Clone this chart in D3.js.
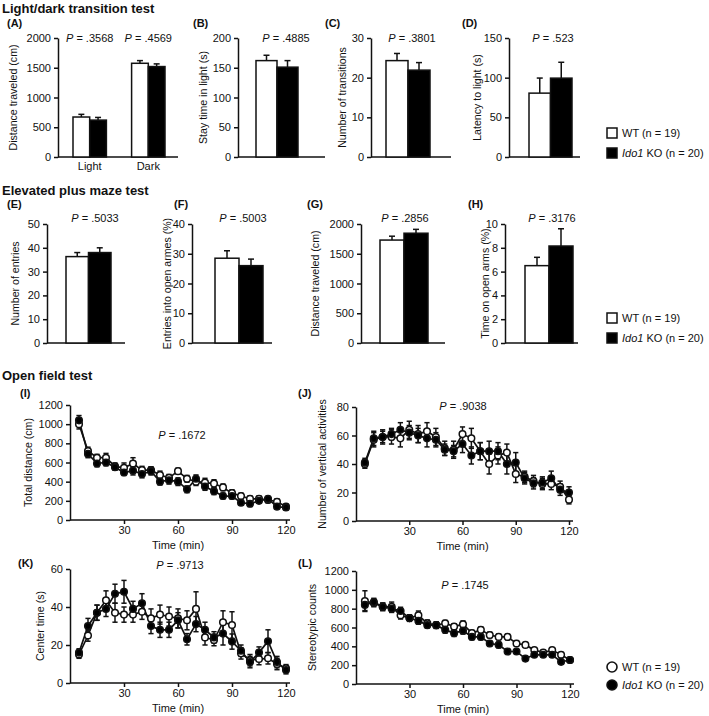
<!DOCTYPE html>
<html><head><meta charset="utf-8">
<script src="https://cdn.jsdelivr.net/npm/d3@7"></script>
<style>
body{margin:0;background:#fff;}
svg text{font-family:"Liberation Sans",Arial,sans-serif;fill:#111;}
</style></head>
<body><svg id="c" width="709" height="716"></svg>
<script>
// ---------- DATA ----------
const groupNames = ["WT (n = 19)", "Ido1 KO (n = 20)"];
// Light/dark transition
const ldCats = ["Light", "Dark"];
const ldDistWT = [672, 1575], ldDistWTErr = [45, 45];
const ldDistKO = [620, 1520], ldDistKOErr = [45, 45];
const stayWT = [162], stayWTErr = [9], stayKO = [151], stayKOErr = [11];
const transWT = [24.3], transWTErr = [1.8], transKO = [21.9], transKOErr = [1.9];
const latWT = [80.5], latWTErr = [19], latKO = [99.4], latKOErr = [20];
// Elevated plus maze
const entWT = [36.3], entWTErr = [1.7], entKO = [38], entKOErr = [2];
const openEntWT = [28.5], openEntWTErr = [2.5], openEntKO = [26], openEntKOErr = [2.2];
const epmDistWT = [1730], epmDistWTErr = [65], epmDistKO = [1845], epmDistKOErr = [65];
const openTimeWT = [6.5], openTimeWTErr = [0.7], openTimeKO = [8.15], openTimeKOErr = [1.45];
// Open field (5-min bins)
const timeBins = [5,10,15,20,25,30,35,40,45,50,55,60,65,70,75,80,85,90,95,100,105,110,115,120];
const totDistWT = [1000,720,650,650,560,545,590,520,520,470,440,510,430,400,390,380,340,280,250,220,220,210,190,140];
const totDistWTErr = [50,40,35,45,35,50,60,40,35,40,35,30,35,40,45,40,35,35,30,30,30,30,30,25];
const totDistKO = [1040,690,590,600,550,495,515,480,510,400,415,400,320,430,350,300,250,250,180,170,200,220,140,130];
const totDistKOErr = [50,40,35,35,30,30,45,40,40,35,40,40,35,40,40,35,30,30,25,30,25,25,25,20];
const vertWT = [40,57,59,59,58,64,61,63,59,51,50,61,58,49,40,46,48,33,31,28,26,26,24,15];
const vertWTErr = [3,5,5,5,6,6,6,6,6,5,6,5,7,6,7,6,6,6,4,4,4,4,4,3];
const vertKO = [41,58,59,61,64,62,60,58,57,50,49,54,46,49,49,49,40,41,30,26.5,27,30,22,20];
const vertKOErr = [3,5,4,4,5,5,5,6,5,4,4,6,6,6,7,6,7,7,4,4,4,5,4,4];
const centWT = [15,25,37,43.5,37,36,36,37.5,34,36,35,34,33,39,24,22.6,32,30.5,15.6,12,12.6,13,10,7.7];
const centWTErr = [2,3,4,5,5,4,4,4,5,5,5,5,5,9,4,3,6,7,3,3,3,3,3,2];
const centKO = [16,30,37,39,47,48,39,42,30,28,28,33,23,31,28,24,26,21.8,17,11,16,22,11,6.8];
const centKOErr = [2,4,4,4,5,6,4,5,4,4,4,4,3,4,4,3,6,4,3,3,3,6,3,2];
const stereoWT = [880,860,820,820,730,700,730,645,625,645,610,635,540,575,520,500,500,430,415,360,335,360,310,255];
const stereoWTErr = [110,40,40,50,40,30,45,35,30,30,30,35,30,30,30,30,30,30,25,25,25,25,25,25];
const stereoKO = [840,870,820,800,775,700,670,625,625,575,540,565,500,500,430,415,345,345,270,310,310,310,235,255];
const stereoKOErr = [60,40,40,40,40,35,35,30,35,35,35,35,30,30,30,30,30,25,25,25,25,25,25,25];
// P values
const pLD = [".3568", ".4569"];
const pBar = [".4885", ".3801", ".523", ".5033", ".5003", ".2856", ".3176"];
const pLine = [".1672", ".9038", ".9713", ".1745"];

// ---------- DRAW ----------
const svg = d3.select("#c");
const FS = 11;

function pText(g, x, y, val) {
  const t = g.append("text").attr("x", x).attr("y", y).attr("text-anchor", "middle").attr("font-size", FS);
  t.append("tspan").attr("font-style", "italic").text("P");
  t.append("tspan").text(" = " + val);
}
function header(x, y, txt, size) {
  svg.append("text").attr("x", x).attr("y", y).attr("font-weight", "bold").attr("font-size", size).text(txt);
}
function yTitle(x, yc, txt) {
  svg.append("text").attr("transform", `translate(${x},${yc}) rotate(-90)`)
    .attr("text-anchor", "middle").attr("font-size", 10.6).text(txt);
}
function styleAxis(a) {
  a.selectAll("path,line").attr("stroke", "#111").attr("stroke-width", 1.5);
  a.selectAll("text").attr("font-size", FS).attr("fill", "#111")
    .attr("font-family", '"Liberation Sans",Arial,sans-serif');
}

function barPanel(c) {
  const y = d3.scaleLinear().domain([0, c.max]).range([c.yBot, c.yTop]);
  const gx = d3.scaleBand().domain(c.cats).range(c.span).paddingInner(c.cats.length > 1 ? 0.43 : 0);
  const sx = d3.scaleBand().domain(["WT", "KO"]).range([0, gx.bandwidth()]);
  const g = svg.append("g");
  const ya = g.append("g").attr("transform", `translate(${c.ax},0)`)
    .call(d3.axisLeft(y).tickValues(d3.range(0, c.max + 1e-9, c.step)).tickFormat(d3.format("d"))
      .tickSize(4).tickSizeOuter(0).tickPadding(3));
  styleAxis(ya);
  g.append("line").attr("x1", c.ax).attr("x2", c.axEnd).attr("y1", c.yBot).attr("y2", c.yBot)
    .attr("stroke", "#111").attr("stroke-width", 1.5);
  const rows = [];
  c.cats.forEach((cat, i) => {
    rows.push({cat, k: "WT", v: c.wt[i], e: c.wtE[i]});
    rows.push({cat, k: "KO", v: c.ko[i], e: c.koE[i]});
  });
  rows.forEach(d => {
    const x0 = gx(d.cat) + sx(d.k), cx = x0 + sx.bandwidth() / 2;
    g.append("line").attr("x1", cx).attr("x2", cx).attr("y1", y(d.v)).attr("y2", y(d.v + d.e))
      .attr("stroke", "#111").attr("stroke-width", 1.5);
    g.append("line").attr("x1", cx - 3).attr("x2", cx + 3).attr("y1", y(d.v + d.e)).attr("y2", y(d.v + d.e))
      .attr("stroke", "#111").attr("stroke-width", 1.5);
    g.append("rect").attr("x", x0).attr("y", y(d.v)).attr("width", sx.bandwidth()).attr("height", c.yBot - y(d.v))
      .attr("fill", d.k === "WT" ? "#fff" : "#000").attr("stroke", "#111").attr("stroke-width", 1.5);
  });
  if (c.showCats) {
    c.cats.forEach(cat => g.append("text").attr("x", gx(cat) + gx.bandwidth() / 2).attr("y", c.yBot + 13)
      .attr("text-anchor", "middle").attr("font-size", FS).text(cat));
  }
  c.p.forEach((pv, i) => pText(g, c.cats.length > 1 ? gx(c.cats[i]) + gx.bandwidth() / 2 : c.pX, c.pY, pv));
  yTitle(c.titleX, (c.yTop + c.yBot) / 2, c.title);
}

function linePanel(c) {
  const x = d3.scaleLinear().domain([0, 120]).range(c.xr);
  const y = d3.scaleLinear().domain([0, c.max]).range([c.yBot, c.yTop]);
  const g = svg.append("g");
  const ya = g.append("g").attr("transform", `translate(${c.xr[0]},0)`)
    .call(d3.axisLeft(y).tickValues(d3.range(0, c.max + 1e-9, c.step)).tickFormat(d3.format("d"))
      .tickSize(4).tickSizeOuter(0).tickPadding(3));
  styleAxis(ya);
  const xa = g.append("g").attr("transform", `translate(0,${c.yBot})`)
    .call(d3.axisBottom(x).tickValues([30, 60, 90, 120]).tickSize(4).tickSizeOuter(0).tickPadding(2));
  styleAxis(xa);
  xa.select("path").attr("d", `M${c.xr[0]},0H${c.xr[1] + 4}`);
  g.append("text").attr("x", x(60)).attr("y", c.yBot + 29).attr("text-anchor", "middle").attr("font-size", FS).text("Time (min)");
  const series = [
    {v: c.wt, e: c.wtE, fill: "#fff"},
    {v: c.ko, e: c.koE, fill: "#000"}
  ];
  const line = d3.line().x((d, i) => x(timeBins[i])).y(d => y(d));
  series.forEach(s => g.append("path").attr("d", line(s.v)).attr("fill", "none").attr("stroke", "#111").attr("stroke-width", 1.7));
  series.forEach(s => s.v.forEach((v, i) => {
    const cx = x(timeBins[i]);
    g.append("line").attr("x1", cx).attr("x2", cx).attr("y1", y(v - s.e[i])).attr("y2", y(v + s.e[i])).attr("stroke", "#111").attr("stroke-width", 1.5);
    [v - s.e[i], v + s.e[i]].forEach(t => g.append("line").attr("x1", cx - 2.6).attr("x2", cx + 2.6).attr("y1", y(t)).attr("y2", y(t)).attr("stroke", "#111").attr("stroke-width", 1.5));
  }));
  series.forEach(s => s.v.forEach((v, i) => {
    g.append("circle").attr("cx", x(timeBins[i])).attr("cy", y(v)).attr("r", 3.3).attr("fill", s.fill).attr("stroke", "#111").attr("stroke-width", 1.5);
  }));
  pText(g, c.pX, c.pY, c.p);
  yTitle(c.titleX, (c.yTop + c.yBot) / 2, c.title);
}

function legend(x, y, gap, shape) {
  groupNames.forEach((name, i) => {
    const yy = y + i * gap;
    if (shape === "rect") {
      svg.append("rect").attr("x", x).attr("y", yy - 5).attr("width", 10).attr("height", 10)
        .attr("fill", i ? "#000" : "#fff").attr("stroke", "#111").attr("stroke-width", 1.5);
    } else {
      svg.append("circle").attr("cx", x + 5).attr("cy", yy).attr("r", 5)
        .attr("fill", i ? "#000" : "#fff").attr("stroke", "#111").attr("stroke-width", 1.6);
    }
    const t = svg.append("text").attr("x", x + 15).attr("y", yy + 4).attr("font-size", FS);
    if (i === 0) t.text(name);
    else { t.append("tspan").attr("font-style", "italic").text("Ido1"); t.append("tspan").text(" KO (n = 20)"); }
  });
}

// Headers
header(2, 13, "Light/dark transition test", 13);
header(2, 195, "Elevated plus maze test", 13);
header(2, 380, "Open field test", 13);
[["(A)",7,27],["(B)",193,27],["(C)",325,27],["(D)",462,27],
 ["(E)",7,208],["(F)",174,208],["(G)",307,208],["(H)",468,208],
 ["(I)",20,397],["(J)",298,397],["(K)",18,567],["(L)",298,567]]
 .forEach(d => header(d[1], d[2], d[0], 11));

// Bar panels
barPanel({cats: ldCats, wt: ldDistWT, wtE: ldDistWTErr, ko: ldDistKO, koE: ldDistKOErr, max: 2000, step: 500,
  ax: 58, axEnd: 178, span: [73, 165], yTop: 38, yBot: 157, p: pLD, pY: 42, showCats: true, titleX: 17, title: "Distance traveled (cm)"});
barPanel({cats: ["a"], wt: stayWT, wtE: stayWTErr, ko: stayKO, koE: stayKOErr, max: 200, step: 50,
  ax: 238, axEnd: 325, span: [256, 298], yTop: 38, yBot: 157, p: [pBar[0]], pX: 286, pY: 42, titleX: 207, title: "Stay time in light (s)"});
barPanel({cats: ["a"], wt: transWT, wtE: transWTErr, ko: transKO, koE: transKOErr, max: 30, step: 10,
  ax: 371, axEnd: 451, span: [386, 430], yTop: 38, yBot: 157, p: [pBar[1]], pX: 412, pY: 42, titleX: 346, title: "Number of transitions"});
barPanel({cats: ["a"], wt: latWT, wtE: latWTErr, ko: latKO, koE: latKOErr, max: 150, step: 50,
  ax: 509, axEnd: 580, span: [529, 572], yTop: 38, yBot: 157, p: [pBar[2]], pX: 553, pY: 42, titleX: 481, title: "Latency to light (s)"});
barPanel({cats: ["a"], wt: entWT, wtE: entWTErr, ko: entKO, koE: entKOErr, max: 50, step: 10,
  ax: 47, axEnd: 125, span: [66, 111], yTop: 224, yBot: 343, p: [pBar[3]], pX: 95, pY: 222, titleX: 19, title: "Number of entries"});
barPanel({cats: ["a"], wt: openEntWT, wtE: openEntWTErr, ko: openEntKO, koE: openEntKOErr, max: 40, step: 10,
  ax: 192, axEnd: 272, span: [215, 263], yTop: 224, yBot: 343, p: [pBar[4]], pX: 243, pY: 222, titleX: 171, title: "Entries into open armes (%)"});
barPanel({cats: ["a"], wt: epmDistWT, wtE: epmDistWTErr, ko: epmDistKO, koE: epmDistKOErr, max: 2000, step: 500,
  ax: 361, axEnd: 445, span: [380, 428], yTop: 224, yBot: 343, p: [pBar[5]], pX: 405, pY: 222, titleX: 319, title: "Distance traveled (cm)"});
barPanel({cats: ["a"], wt: openTimeWT, wtE: openTimeWTErr, ko: openTimeKO, koE: openTimeKOErr, max: 10, step: 2,
  ax: 505, axEnd: 578, span: [525, 573], yTop: 224, yBot: 343, p: [pBar[6]], pX: 552, pY: 222, titleX: 489, title: "Time on open arms (%)"});

legend(607, 133, 20, "rect");
legend(607, 318, 20, "rect");

// Line panels
linePanel({wt: totDistWT, wtE: totDistWTErr, ko: totDistKO, koE: totDistKOErr, max: 1200, step: 200,
  xr: [70, 286], yTop: 405, yBot: 520, p: pLine[0], pX: 182, pY: 439, titleX: 32, title: "Total distance (cm)"});
linePanel({wt: vertWT, wtE: vertWTErr, ko: vertKO, koE: vertKOErr, max: 80, step: 20,
  xr: [356, 569], yTop: 407, yBot: 521, p: pLine[1], pX: 463, pY: 410, titleX: 326, title: "Number of vertical activities"});
linePanel({wt: centWT, wtE: centWTErr, ko: centKO, koE: centKOErr, max: 60, step: 20,
  xr: [70, 286], yTop: 569, yBot: 683, p: pLine[2], pX: 180, pY: 569, titleX: 44, title: "Center time (s)"});
linePanel({wt: stereoWT, wtE: stereoWTErr, ko: stereoKO, koE: stereoKOErr, max: 1200, step: 200,
  xr: [356, 570], yTop: 571, yBot: 684, p: pLine[3], pX: 465, pY: 589, titleX: 316, title: "Stereotypic counts"});

legend(607, 667, 18, "circle");
</script></body></html>
